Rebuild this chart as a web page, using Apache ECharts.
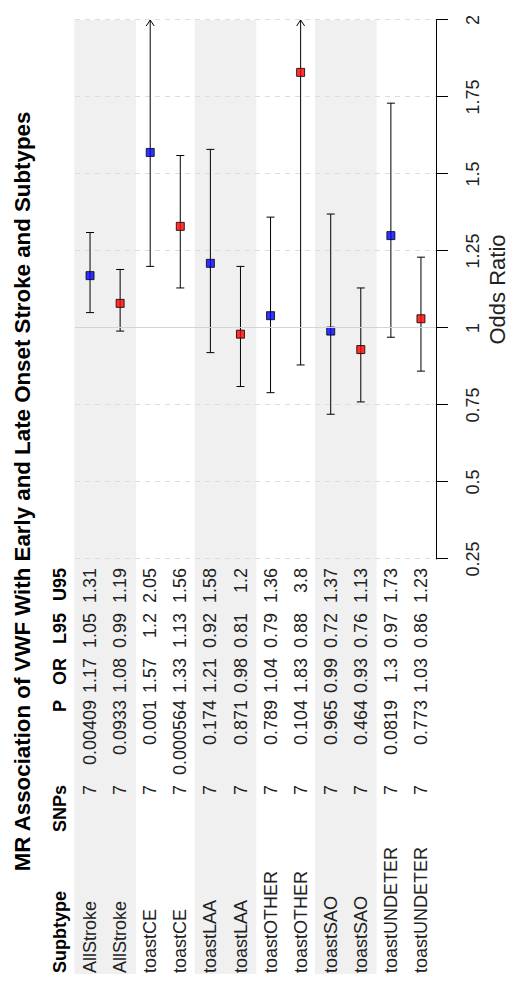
<!DOCTYPE html>
<html>
<head>
<meta charset="utf-8">
<script src="https://cdn.jsdelivr.net/npm/echarts@6/dist/echarts.min.js"></script>
<style>
html,body{margin:0;padding:0;background:#fff;overflow:hidden;width:509px;height:983px;}
#chart{position:absolute;left:0;top:0;width:983px;height:509px;transform-origin:0 0;transform:translate(0px,983px) rotate(-90deg);}
</style>
</head>
<body>
<div id="chart"></div>
<script>
// ---------------- data ----------------
const titleText = 'MR Association of VWF With Early and Late Onset Stroke and Subtypes';
const headers = ['Supbtype', 'SNPs', 'P', 'OR', 'L95', 'U95'];
const subtypes = ['AllStroke', 'AllStroke', 'toastCE', 'toastCE', 'toastLAA', 'toastLAA',
  'toastOTHER', 'toastOTHER', 'toastSAO', 'toastSAO', 'toastUNDETER', 'toastUNDETER'];
const snps = [7, 7, 7, 7, 7, 7, 7, 7, 7, 7, 7, 7];
const pValues = [0.00409, 0.0933, 0.001, 0.000564, 0.174, 0.871, 0.789, 0.104, 0.965, 0.464, 0.0819, 0.773];
const oddsRatios = [1.17, 1.08, 1.57, 1.33, 1.21, 0.98, 1.04, 1.83, 0.99, 0.93, 1.3, 1.03];
const lower95 = [1.05, 0.99, 1.2, 1.13, 0.92, 0.81, 0.79, 0.88, 0.72, 0.76, 0.97, 0.86];
const upper95 = [1.31, 1.19, 2.05, 1.56, 1.58, 1.2, 1.36, 3.8, 1.37, 1.13, 1.73, 1.23];
const onset = ['Early', 'Late', 'Early', 'Late', 'Early', 'Late', 'Early', 'Late', 'Early', 'Late', 'Early', 'Late'];
const shadedRows = [1, 1, 0, 0, 1, 1, 0, 0, 1, 1, 0, 0];
const orTicks = [0.25, 0.5, 0.75, 1, 1.25, 1.5, 1.75, 2];
const nullOR = 1;

// ---------------- styles ----------------
const FONT = "'Liberation Sans', Arial, Helvetica, sans-serif";
const onsetColors = { Early: '#0000ff', Late: '#ff0000' };
const textColor = '#222';

const chart = echarts.init(document.getElementById('chart'), null, { renderer: 'svg' });

const rowIdx = subtypes.map((_, i) => String(i));
const rowIdxWithHeader = ['h'].concat(rowIdx);
const xMin = orTicks[0];
const xMax = orTicks[orTicks.length - 1];

function tableAxis(header, values, offset, align) {
  return {
    gridIndex: 1, type: 'category', inverse: true, position: 'left', offset: offset,
    data: [header].concat(values.map(String)),
    axisLine: { show: false }, axisTick: { show: false }, splitLine: { show: false },
    axisLabel: {
      show: true, interval: 0, margin: 0, align: align,
      fontSize: 18, fontFamily: FONT, color: textColor,
      formatter: function (v, i) { return i === 0 ? '{h|' + v + '}' : v; },
      rich: { h: { fontWeight: 'bold', fontSize: 18, fontFamily: FONT, color: '#000' } }
    }
  };
}

const option = {
  animation: false,
  backgroundColor: '#fff',
  title: {
    text: titleText, left: 'center', top: 6, padding: [5, 8, 5, 0],
    textStyle: { fontFamily: FONT, fontSize: 22.3, fontWeight: 'bold', color: '#000' }
  },
  grid: [
    { left: 9, right: 20, top: 45, height: 391, outerBoundsMode: 'none', containLabel: false },
    { left: 424, right: 20, top: 45, height: 391, outerBoundsMode: 'none', containLabel: false },
    { left: 424, right: 20, top: 75, height: 361, outerBoundsMode: 'none', containLabel: false }
  ],
  xAxis: [
    { gridIndex: 0, type: 'value', min: 0, max: 1, show: false },
    { gridIndex: 1, type: 'value', min: 0, max: 1, show: false },
    {
      gridIndex: 2, type: 'value', position: 'bottom',
      min: xMin, max: xMax, interval: orTicks[1] - orTicks[0],
      axisLine: { show: true, lineStyle: { color: '#000', width: 1 } },
      axisTick: { show: true, inside: false, length: 12, lineStyle: { color: '#000', width: 1 } },
      axisLabel: {
        show: true, margin: 28, fontSize: 18, fontFamily: FONT, color: textColor,
        showMinLabel: true, showMaxLabel: true,
        formatter: function (v) {
          const t = orTicks.find(k => Math.abs(k - v) < 1e-9);
          return t === undefined ? '' : String(t);
        }
      },
      splitLine: { show: true, lineStyle: { color: '#dcdcdc', width: 1, type: [5, 5] } },
      name: 'Odds Ratio', nameLocation: 'middle', nameGap: 43,
      nameTextStyle: { fontFamily: FONT, fontSize: 22, color: textColor }
    }
  ],
  yAxis: [
    { gridIndex: 0, type: 'category', inverse: true, data: rowIdxWithHeader, show: false },
    { gridIndex: 2, type: 'category', inverse: true, data: rowIdx, show: false },
    tableAxis(headers[0], subtypes, 414, 'left'),
    tableAxis(headers[1], snps, 226, 'right'),
    tableAxis(headers[2], pValues, 141, 'right'),
    tableAxis(headers[3], oddsRatios, 99, 'right'),
    tableAxis(headers[4], lower95, 54, 'right'),
    tableAxis(headers[5], upper95, 9, 'right')
  ],
  series: [
    {
      type: 'bar', xAxisIndex: 0, yAxisIndex: 0, silent: true, z: -10,
      barWidth: '105%',
      data: [0].concat(shadedRows),
      itemStyle: { color: '#f0f0f0' }
    },
    {
      type: 'line', xAxisIndex: 2, yAxisIndex: 1, data: [], silent: true, z: 1,
      markLine: {
        silent: true, symbol: ['none', 'none'], label: { show: false },
        lineStyle: { color: '#d4d4d4', type: 'solid', width: 1 },
        data: [{ xAxis: nullOR }]
      }
    },
    {
      type: 'custom', xAxisIndex: 2, yAxisIndex: 1, z: 3, silent: true, clip: false,
      encode: { x: [1, 2], y: 0 },
      data: subtypes.map((_, i) => [i, lower95[i], upper95[i]]),
      renderItem: function (params, api) {
        const row = api.value(0);
        const lo = api.value(1);
        const hi = api.value(2);
        const a = api.coord([lo, row]);
        const b = api.coord([Math.min(hi, xMax), row]);
        const h = 4;
        const style = { stroke: '#000', lineWidth: 1, fill: null };
        const children = [
          { type: 'line', shape: { x1: a[0], y1: a[1], x2: b[0], y2: b[1] }, style: style },
          { type: 'line', shape: { x1: a[0], y1: a[1] - h, x2: a[0], y2: a[1] + h }, style: style }
        ];
        if (hi > xMax) {
          children.push({ type: 'polyline', shape: { points: [[b[0] - 6, b[1] - 4], [b[0], b[1]], [b[0] - 6, b[1] + 4]] }, style: style });
        } else {
          children.push({ type: 'line', shape: { x1: b[0], y1: b[1] - h, x2: b[0], y2: b[1] + h }, style: style });
        }
        return { type: 'group', children: children };
      }
    },
    {
      type: 'scatter', xAxisIndex: 2, yAxisIndex: 1, z: 4, silent: true,
      symbol: 'rect', symbolSize: 8,
      data: oddsRatios.map((v, i) => ({
        value: [v, i],
        itemStyle: { color: onsetColors[onset[i]], borderColor: '#000', borderWidth: 1 }
      }))
    }
  ]
};

chart.setOption(option);
</script>
</body>
</html>
